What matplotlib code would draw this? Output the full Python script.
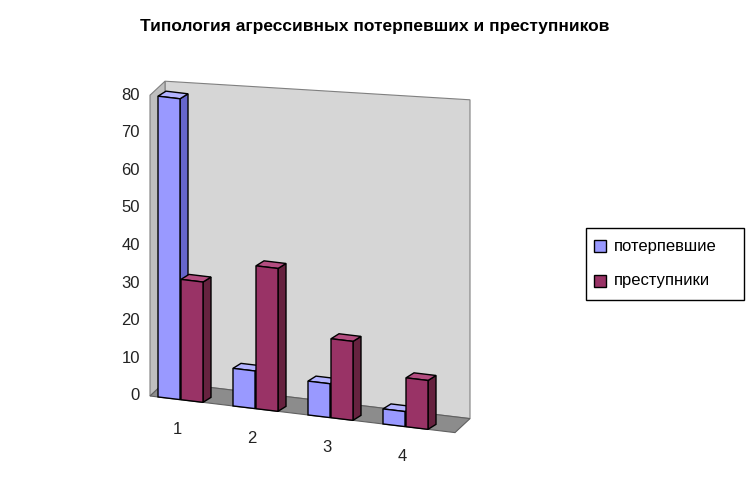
import matplotlib
matplotlib.use("Agg")
import matplotlib.pyplot as plt
from matplotlib.patches import Polygon, Rectangle

categories = ["1", "2", "3", "4"]
victims = [80, 10, 9, 4]
offenders = [32, 38, 21, 13]
series_names = ["потерпевшие", "преступники"]
yticks = [0, 10, 20, 30, 40, 50, 60, 70, 80]

W, H = 748, 484
fig = plt.figure(figsize=(W/100, H/100), dpi=100)
ax = fig.add_axes([0, 0, 1, 1])
ax.set_xlim(0, W); ax.set_ylim(H, 0); ax.axis("off")

SC = 3.76        # px per unit
X0, Y0 = 150, 396
SL = 0.12        # floor slant
DX, DY = 15, -14  # full depth offset

def base(x):
    return Y0 + (x - X0) * SL

# walls
xr = 455
ax.add_patch(Polygon([(X0+DX, base(X0)+DY), (xr+DX, base(xr)+DY),
                      (xr+DX, base(xr)+DY-80*SC-18), (X0+DX, base(X0)+DY-80*SC)],
                     closed=True, fc="#d6d6d6", ec="#808080", lw=0.8))
ax.add_patch(Polygon([(X0, base(X0)), (X0+DX, base(X0)+DY),
                      (X0+DX, base(X0)+DY-80*SC), (X0, base(X0)-80*SC)],
                     closed=True, fc="#bfbfbf", ec="#808080", lw=0.8))
ax.add_patch(Polygon([(X0, base(X0)), (xr, base(xr)), (xr+DX, base(xr)+DY),
                      (X0+DX, base(X0)+DY)], closed=True, fc="#8c8c8c", ec="#606060", lw=0.8))

for t in yticks:
    ax.text(X0-10, base(X0)-t*SC, str(t), ha="right", va="center", fontsize=12,
            family="Liberation Sans", color="#222222")

bdx, bdy = 8, -5
def bar(x1, x2, v, fc, side, top):
    yb1, yb2 = base(x1), base(x2)
    h = v*SC
    ax.add_patch(Polygon([(x2, yb2), (x2+bdx, yb2+bdy), (x2+bdx, yb2+bdy-h), (x2, yb2-h)],
                         closed=True, fc=side, ec="black", lw=1))
    ax.add_patch(Polygon([(x1, yb1-h), (x2, yb2-h), (x2+bdx, yb2+bdy-h), (x1+bdx, yb1+bdy-h)],
                         closed=True, fc=top, ec="black", lw=1))
    ax.add_patch(Polygon([(x1, yb1), (x2, yb2), (x2, yb2-h), (x1, yb1-h)],
                         closed=True, fc=fc, ec="black", lw=1))

for i, c in enumerate(categories):
    bx = X0 + 75*i
    bar(bx+8, bx+30, victims[i], "#9999ff", "#6666cc", "#b3b3ff")
    bar(bx+31, bx+53, offenders[i], "#993366", "#66223f", "#b34d80")
    ax.text(bx+27, base(bx+27)+30, c, ha="center", va="center", fontsize=12,
            family="Liberation Sans", color="#222222")

ax.text(375, 27, "Типология агрессивных потерпевших и преступников", ha="center",
        va="center", fontsize=12.5, fontweight="bold", family="Liberation Sans")

ax.add_patch(Rectangle((586, 228), 158, 72, fc="white", ec="black", lw=1))
for j, (n, col) in enumerate(zip(series_names, ["#9999ff", "#993366"])):
    y = 246 + j*35
    ax.add_patch(Rectangle((594, y-6), 12, 12, fc=col, ec="black", lw=1))
    ax.text(614, y, n, va="center", fontsize=12, family="Liberation Sans")

fig.savefig("out.png", dpi=100, facecolor="white")
